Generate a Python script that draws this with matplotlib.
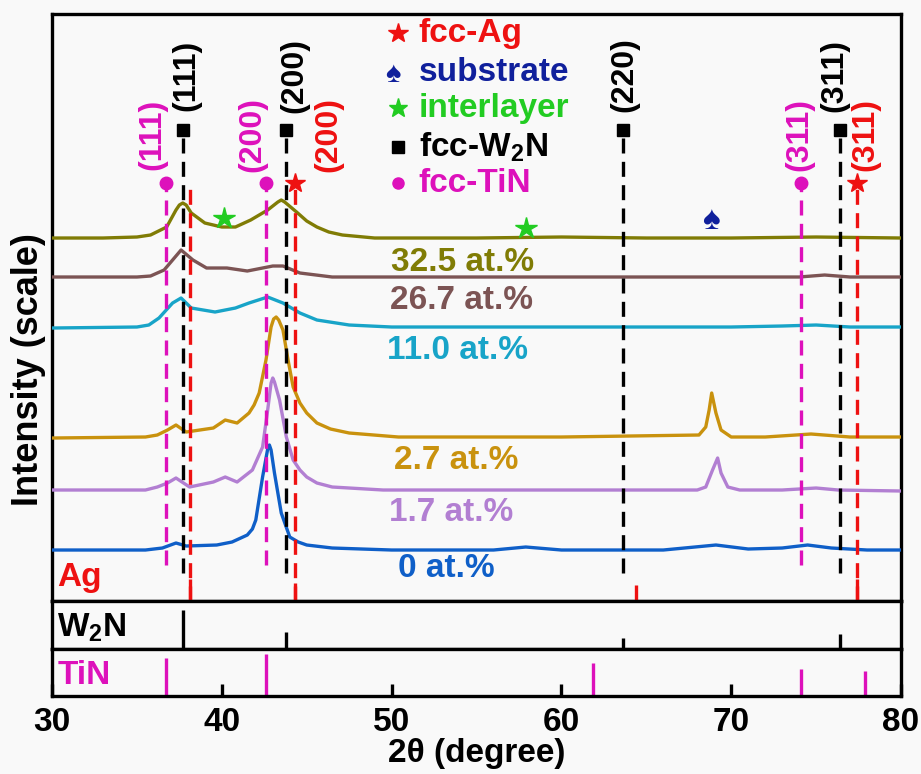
import matplotlib
matplotlib.use("Agg")
import matplotlib.pyplot as plt

plt.rcParams['font.family'] = ['Liberation Sans', 'DejaVu Sans']
plt.rcParams['font.weight'] = 'bold'
plt.rcParams['axes.labelweight'] = 'bold'
plt.rcParams['mathtext.fontset'] = 'custom'
plt.rcParams['mathtext.rm'] = 'Liberation Sans:bold'
plt.rcParams['mathtext.bf'] = 'Liberation Sans:bold'

# reference stick patterns (2theta, relative height)
ag_pos = [38.1, 44.3, 64.4, 77.4]
ag_int = [22, 18, 16, 22]
w2n_pos = [37.7, 43.8, 63.6, 76.4]
w2n_int = [39, 17, 11, 15]
tin_pos = [36.7, 42.6, 61.85, 74.1, 77.9]
tin_int = [38, 42, 33, 27, 25]

# measured patterns, stacked (offset already included)
x_325 = [30, 33, 35, 35.8, 36.75, 37.3, 37.5, 37.7, 37.9, 38.2, 39.0, 40.0, 40.8, 41.7, 42.7, 43.3, 43.5,
         43.7, 44.4, 45.0, 45.6, 46.3, 47.1, 49, 55, 60, 65, 70, 75, 80]
y_325 = [363, 363, 364, 366, 374, 391, 396, 398, 396, 388, 378, 374, 374, 381, 391, 399, 401,
         399, 389, 380, 374, 369, 366, 363, 363, 364, 363, 363, 364, 363]
x_267 = [30, 35, 35.8, 36.6, 37.2, 37.6, 38.3, 39.1, 40.3, 41.5, 43.0, 43.6, 44.6, 46.5, 50, 60, 70,
         74, 75.5, 77, 80]
y_267 = [324, 324, 325, 331, 343, 351, 341, 333, 333, 330, 335, 335, 328, 324, 324, 324, 324,
         324, 326, 324, 324]
x_110 = [30, 35, 35.7, 36.3, 37.1, 37.6, 38.2, 39.6, 40.8, 41.6, 42.7, 43.6, 44.6, 45.6, 47.5, 50,
         60, 70, 73, 75, 77, 80]
y_110 = [273, 274, 276, 283, 298, 303, 293, 289, 293, 298, 304, 298, 288, 281, 276, 274,
         274, 274, 275, 276, 274, 274]
x_27 = [30, 35.5, 36.2, 36.8, 37.3, 37.9, 39.5, 40.2, 40.9, 41.6, 41.9, 42.2, 42.6, 42.9, 43.05, 43.2,
        43.35, 43.6, 43.9, 44.2, 44.6, 45.0, 45.6, 46.4, 47.5, 50.4, 60, 68.1, 68.5, 68.7, 68.85, 69.1,
        69.4, 70.0, 72, 74.7, 77, 80]
y_27 = [163, 164, 166, 171, 176, 169, 173, 181, 178, 188, 196, 208, 241, 274, 282, 284,
        281, 271, 241, 214, 198, 188, 178, 172, 168, 164, 164, 166, 174, 191, 208, 188,
        171, 164, 164, 167, 164, 164]
x_17 = [30, 35.5, 36.2, 36.8, 37.3, 38.1, 39.5, 40.2, 40.9, 41.8, 42.4, 42.7, 42.9, 43.0, 43.1, 43.4,
        43.8, 44.2, 44.6, 45.0, 45.6, 46.5, 49.5, 60, 68.0, 68.5, 68.9, 69.2, 69.4, 69.8, 70.5, 73,
        75.0, 76.3, 80]
y_17 = [111, 111, 114, 118, 123, 114, 119, 124, 119, 131, 154, 191, 218, 223, 219, 201,
        164, 141, 131, 124, 118, 114, 111, 111, 111, 114, 131, 143, 128, 114, 111, 111,
        113, 111, 110]
x_0 = [30, 35.5, 36.5, 37.3, 37.9, 39.7, 40.6, 41.5, 41.8, 42.0, 42.4, 42.7, 42.8, 42.9, 43.1, 43.5,
       44.0, 44.5, 45.0, 46.5, 50, 56, 57.9, 60, 66, 69.1, 71, 73, 74.5, 75.9, 78, 80]
y_0 = [51, 51, 53, 58, 55, 56, 59, 66, 72, 81, 124, 152, 156, 151, 128, 88,
       64, 59, 56, 53, 51, 51, 54, 51, 51, 56, 52, 53, 56, 53, 51, 51]

patterns = [
    (x_325, y_325, '#807c05', '32.5 at.%', 54.2, 339),
    (x_267, y_267, '#7c5454', '26.7 at.%', 54.1, 301),
    (x_110, y_110, '#18a4c8', '11.0 at.%', 53.9, 251),
    (x_27, y_27, '#c9920e', '2.7 at.%', 53.8, 141),
    (x_17, y_17, '#b27fd2', '1.7 at.%', 53.5, 89),
    (x_0, y_0, '#0f5fc8', '0 at.%', 53.2, 33),
]

RED = '#ee1111'
MAG = '#dd11bb'
BLK = 'black'
NAVY = '#10209c'

fig = plt.figure(figsize=(9.21, 7.74), dpi=100)
fig.patch.set_facecolor('#f9f9f9')
ax = fig.add_axes([0.0565, 0.2235, 0.9218, 0.7584])
ax_w = fig.add_axes([0.0565, 0.1615, 0.9218, 0.062])
ax_t = fig.add_axes([0.0565, 0.1008, 0.9218, 0.0607])

for a in (ax, ax_w, ax_t):
    a.set_facecolor('#f9f9f9')
    a.set_xlim(30, 80)
    for s in a.spines.values():
        s.set_linewidth(2.4)
    a.set_yticks([])
    a.tick_params(axis='x', which='both', bottom=False, labelbottom=False)

ax.set_ylim(0, 587)
ax_w.set_ylim(0, 48)
ax_t.set_ylim(0, 47)

for x, y, c, lab, lx, ly in patterns:
    ax.plot(x, y, color=c, lw=2.4, zorder=3)
    ax.text(lx, ly, lab, color=c, fontsize=24, ha='center', va='center')

dash = (0, (4.5, 2.5))
# W2N reference lines
for xp in w2n_pos:
    ax.plot([xp, xp], [28, 471], color=BLK, lw=2.4, ls=dash, zorder=4)
    ax.plot(xp, 471, 's', color=BLK, ms=9, zorder=5)
# TiN lines (only strong ones)
for xp in [36.7, 42.6, 74.1]:
    ax.plot([xp, xp], [36, 418], color=MAG, lw=2.4, ls=dash, zorder=4)
    ax.plot(xp, 418, 'o', color=MAG, ms=9, zorder=5)
for xp in [38.1, 44.3, 77.4]:
    ax.plot([xp, xp], [0, 418], color=RED, lw=2.4, ls=dash, zorder=4)
ax.plot([44.3, 77.4], [418, 418], '*', color=RED, ms=15, zorder=5)

ax.vlines(ag_pos, 0, ag_int, color=RED, lw=2.4, zorder=4)
ax_w.vlines(w2n_pos, 0, w2n_int, color=BLK, lw=2.4)
ax_t.vlines(tin_pos, 0, tin_int, color=MAG, lw=2.4)

# hkl labels
hkl = [
    (37.9, 526, '(111)', BLK), (44.3, 526, '(200)', BLK), (63.7, 526, '(220)', BLK), (76.05, 526, '(311)', BLK),
    (35.9, 467, '(111)', MAG), (41.8, 467, '(200)', MAG), (74.0, 467, '(311)', MAG),
    (46.3, 467, '(200)', RED), (77.9, 467, '(311)', RED),
]
for x, y, t, c in hkl:
    ax.text(x, y, t, color=c, fontsize=23, rotation=90, ha='center', va='center')

# interlayer and substrate peaks
ax.plot([40.1, 57.9], [383, 373], '*', color='#22cc22', ms=16, zorder=5)
ax.text(68.8, 381, '\u2660', color=NAVY, fontsize=24, ha='center', va='center', zorder=5)

# legend block
leg = [
    (568, '*', RED, 'fcc-Ag', 15),
    (529, None, NAVY, 'substrate', 0),
    (493, '*', '#22cc22', 'interlayer', 14),
    (454, 's', BLK, r'fcc-W$_{2}$N', 9),
    (418, 'o', MAG, 'fcc-TiN', 8),
]
for y, m, c, t, ms in leg:
    if m is None:
        ax.text(50.05, y - 2, '\u2660', color=c, fontsize=21, ha='center', va='center')
    else:
        ax.plot(50.35, y, m, color=c, ms=ms)
    ax.text(51.6, y, t, color=c, fontsize=24, ha='left', va='center')

ax.text(30.3, 24, 'Ag', color=RED, fontsize=24, ha='left', va='center')
ax_w.text(30.3, 21, r'W$_{2}$N', color=BLK, fontsize=24, ha='left', va='center')
ax_t.text(30.3, 20, 'TiN', color=MAG, fontsize=24, ha='left', va='center')

ax_t.set_xticks([30, 40, 50, 60, 70, 80])
ax_t.tick_params(axis='x', bottom=True, labelbottom=True, direction='in', length=9, width=2.4,
                 labelsize=24, pad=8)
ax_t.set_xlabel('2\u03b8 (degree)', fontsize=24, fontweight='bold', labelpad=0)

fig.text(0.031, 0.522, 'Intensity (scale)', rotation=90, fontsize=26, ha='center', va='center')

fig.savefig('out.png', dpi=100, facecolor=fig.get_facecolor())
